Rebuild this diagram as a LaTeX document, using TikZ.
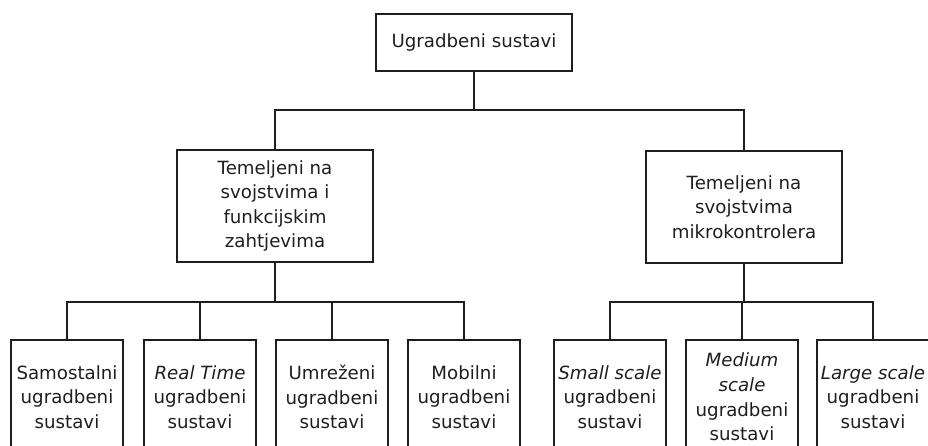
\documentclass[tikz,border=0pt]{standalone}
\usepackage{fontspec}
\setmainfont{DejaVu Sans}
\definecolor{ink}{HTML}{1E1E1E}
\begin{document}
\begin{tikzpicture}[x=1pt,y=-1pt,
  every node/.style={font=\fontsize{18.2}{24.6}\selectfont, text=ink},
  box/.style={draw=ink, line width=1.6pt, rectangle, align=center, inner sep=0pt},
  rootbox/.style={box, minimum width=196pt, minimum height=57pt},
  midbox/.style={box, minimum width=196pt, minimum height=112pt},
  leafbox/.style={box, minimum width=112pt, minimum height=114pt},
  link/.style={draw=ink, line width=1.6pt}]
\useasboundingbox (0,0) rectangle (928,445);
\clip (0,0) rectangle (928,445);
\node[rootbox] (root) at (474,42.5) {Ugradbeni sustavi};
\node[midbox] (m1) at (275,206) {Temeljeni na\\svojstvima i\\funkcijskim\\zahtjevima};
\node[midbox] (m2) at (744,207) {Temeljeni na\\svojstvima\\mikrokontrolera};
\node[leafbox] (l1) at (67,397) {Samostalni\\ugradbeni\\sustavi};
\node[leafbox] (l2) at (200,397) {\textit{Real Time}\\ugradbeni\\sustavi};
\node[leafbox] (l3) at (332,397) {Umreženi\\ugradbeni\\sustavi};
\node[leafbox] (l4) at (464,397) {Mobilni\\ugradbeni\\sustavi};
\node[leafbox] (l5) at (610,397) {\textit{Small scale}\\ugradbeni\\sustavi};
\node[leafbox] (l6) at (742,397) {\textit{Medium}\\\textit{scale}\\ugradbeni\\sustavi};
\node[leafbox] (l7) at (873,397) {\textit{Large scale}\\ugradbeni\\sustavi};
\coordinate (j0) at (474,110);
\coordinate (j1) at (275,302);
\coordinate (j2) at (744,302);
\draw[link] (root.south) -- (j0);
\draw[link] (j0) -| (m1.north);
\draw[link] (j0) -| (m2.north);
\draw[link] (m1.south) -- (j1);
\draw[link] (m2.south) -- (j2);
\foreach \n in {l1,l2,l3,l4} \draw[link] (j1) -| (\n.north);
\foreach \n in {l5,l6,l7} \draw[link] (j2) -| (\n.north);
\end{tikzpicture}
\end{document}
